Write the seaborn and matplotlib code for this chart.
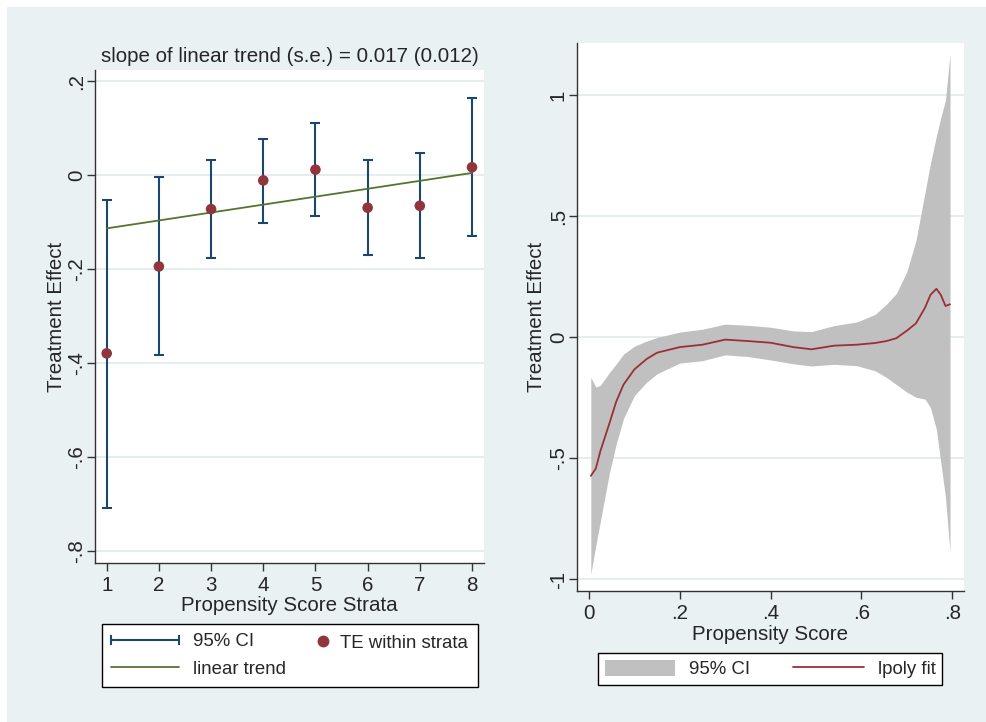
import numpy as np
import pandas as pd
import matplotlib
matplotlib.use("Agg")
import matplotlib.pyplot as plt
import seaborn as sns
from matplotlib.lines import Line2D
from matplotlib.patches import Patch, Rectangle
from matplotlib.legend_handler import HandlerLine2D

sns.set_style("white")
plt.rcParams['font.family'] = ['Liberation Sans', 'DejaVu Sans']

# left panel: treatment effect within propensity score strata
strata = [1, 2, 3, 4, 5, 6, 7, 8]
te = [-0.379, -0.194, -0.072, -0.011, 0.012, -0.069, -0.065, 0.017]
ci_low = [-0.707, -0.382, -0.177, -0.101, -0.087, -0.170, -0.176, -0.130]
ci_high = [-0.052, -0.004, 0.033, 0.078, 0.112, 0.033, 0.048, 0.164]
trend_x = [1, 8]
trend_y = [-0.113, 0.005]

# right panel: lpoly fit with 95% CI
ps = [0.004, 0.015, 0.025, 0.045, 0.06, 0.076, 0.1, 0.127, 0.15, 0.2, 0.25, 0.3,
      0.35, 0.4, 0.45, 0.49, 0.54, 0.59, 0.63, 0.655, 0.677, 0.7, 0.72, 0.74,
      0.752, 0.765, 0.775, 0.785, 0.795]
fit = [-0.572, -0.542, -0.47, -0.355, -0.265, -0.195, -0.132, -0.089, -0.063, -0.040,
       -0.030, -0.009, -0.015, -0.022, -0.040, -0.049, -0.034, -0.030, -0.023, -0.015,
       -0.003, 0.028, 0.058, 0.123, 0.176, 0.201, 0.175, 0.130, 0.137]
upper = [-0.165, -0.205, -0.198, -0.145, -0.11, -0.069, -0.036, -0.015, 0.000, 0.022,
         0.034, 0.055, 0.050, 0.042, 0.027, 0.024, 0.049, 0.064, 0.095, 0.137,
         0.182, 0.272, 0.40, 0.60, 0.72, 0.832, 0.91, 0.98, 1.171]
lower = [-0.978, -0.86, -0.76, -0.56, -0.44, -0.335, -0.24, -0.185, -0.150, -0.106,
         -0.096, -0.072, -0.079, -0.093, -0.109, -0.118, -0.111, -0.117, -0.138, -0.165,
         -0.195, -0.226, -0.247, -0.255, -0.29, -0.38, -0.52, -0.66, -0.889]

navy = "#1A476F"
maroon = "#90353B"
green = "#55752F"
bg = "#EAF1F3"
grid_c = "#E3ECEE"
fs = 14.8
lfs = 13.4

fig = plt.figure(figsize=(9.86, 7.22), dpi=100, facecolor=bg)
# thin white strip on top and left edges
fig.patches.append(Rectangle((0, 1 - 7/722), 1, 7/722, transform=fig.transFigure,
                             facecolor="white", edgecolor="none", zorder=-10))
fig.patches.append(Rectangle((0, 0), 7/986, 1, transform=fig.transFigure,
                             facecolor="white", edgecolor="none", zorder=-10))

ax1 = fig.add_axes([95/986, 1 - 563/722, 389/986, 493/722])
ax2 = fig.add_axes([577/986, 1 - 591.3/722, 387/986, 548.4/722])


def style(ax):
    ax.set_facecolor("white")
    for s in ["top", "right"]:
        ax.spines[s].set_visible(False)
    for s in ["left", "bottom"]:
        ax.spines[s].set_color("#333333")
        ax.spines[s].set_linewidth(1.0)
    ax.tick_params(axis="both", direction="out", length=5.8, width=1.0, color="#333333",
                   labelsize=fs, left=True, bottom=True)
    ax.tick_params(axis="x", pad=3.6)
    ax.tick_params(axis="y", pad=0.8)
    ax.yaxis.grid(True, color=grid_c, lw=1.3)
    ax.set_axisbelow(True)
    for lab in ax.get_yticklabels():
        lab.set_rotation(90)
        lab.set_va("center")


# ---- left panel
ax1.errorbar(strata, te, yerr=[np.array(te) - np.array(ci_low), np.array(ci_high) - np.array(te)],
             fmt="none", ecolor=navy, elinewidth=1.5, capsize=3.6, capthick=1.5, zorder=2)
sns.lineplot(x=trend_x, y=trend_y, color=green, lw=1.3, ax=ax1, zorder=3)
sns.scatterplot(x=strata, y=te, color=maroon, s=58, edgecolor="none", ax=ax1, zorder=4)
ax1.set_xlim(0.776, 8.23)
ax1.set_ylim(-0.825, 0.224)
ax1.set_xticks(strata)
ax1.set_xticklabels([str(s) for s in strata])
ax1.set_yticks([0.2, 0, -0.2, -0.4, -0.6, -0.8])
ax1.set_yticklabels([".2", "0", "-.2", "-.4", "-.6", "-.8"])
style(ax1)
ax1.set_xlabel("Propensity Score Strata", fontsize=fs, labelpad=1)
ax1.set_ylabel("Treatment Effect", fontsize=fs, labelpad=0.5)
ax1.set_title("slope of linear trend (s.e.) = 0.017 (0.012)", fontsize=fs, pad=6)

h_ci = Line2D([], [], color=navy, lw=1.5, marker="|", markersize=7, markeredgewidth=1.5)
h_te = Line2D([], [], color=maroon, lw=0, marker="o", markersize=7.5)
h_tr = Line2D([], [], color=green, lw=1.3)
leg1 = fig.legend([h_ci, h_tr], ["95% CI", "linear trend"], ncol=1, loc="upper left",
                  bbox_to_anchor=(102/986, 1 - 689/722, 376/986, 65/722),
                  mode="expand", fontsize=lfs, frameon=True, fancybox=False,
                  edgecolor="black", framealpha=1, handlelength=3.65, handletextpad=0.75,
                  numpoints=2, borderpad=0.5, labelspacing=0.55, borderaxespad=0,
                  handler_map={h_ci: HandlerLine2D(marker_pad=0),
                               h_tr: HandlerLine2D(marker_pad=0)})
leg1.get_frame().set_linewidth(1.0)
leg1b = fig.legend([h_te], ["TE within strata"], loc="center left",
                   bbox_to_anchor=(313.7/986, 1 - 643/722), fontsize=lfs, frameon=False,
                   handlelength=1.0, handletextpad=0.4, numpoints=1, borderpad=0,
                   borderaxespad=0)

# ---- right panel
ax2.fill_between(ps, lower, upper, color="#C0C0C0", lw=0, zorder=2)
sns.lineplot(x=ps, y=fit, color="#9A2F38", lw=1.3, ax=ax2, zorder=3)
ax2.set_xlim(-0.0264, 0.8258)
ax2.set_ylim(-1.049, 1.217)
ax2.set_xticks([0, 0.2, 0.4, 0.6, 0.8])
ax2.set_xticklabels(["0", ".2", ".4", ".6", ".8"])
ax2.set_yticks([1, 0.5, 0, -0.5, -1])
ax2.set_yticklabels(["1", ".5", "0", "-.5", "-1"])
style(ax2)
ax2.set_xlabel("Propensity Score", fontsize=fs, labelpad=1)
ax2.set_ylabel("Treatment Effect", fontsize=fs, labelpad=2)

h_band = Patch(facecolor="#C0C0C0", edgecolor="none")
h_fit = Line2D([], [], color="#9A2F38", lw=1.3)
leg2 = fig.legend([h_band, h_fit], ["95% CI", "lpoly fit"], ncol=2, loc="upper left",
                  bbox_to_anchor=(598/986, 1 - 687/722, 344/986, 34/722), mode="expand",
                  fontsize=lfs, frameon=True, fancybox=False, edgecolor="black",
                  framealpha=1, handlelength=3.8, handleheight=1.0, handletextpad=0.75,
                  borderpad=0.35, borderaxespad=0)
leg2.get_frame().set_linewidth(1.0)

fig.savefig("out.png", dpi=100, facecolor=bg)
